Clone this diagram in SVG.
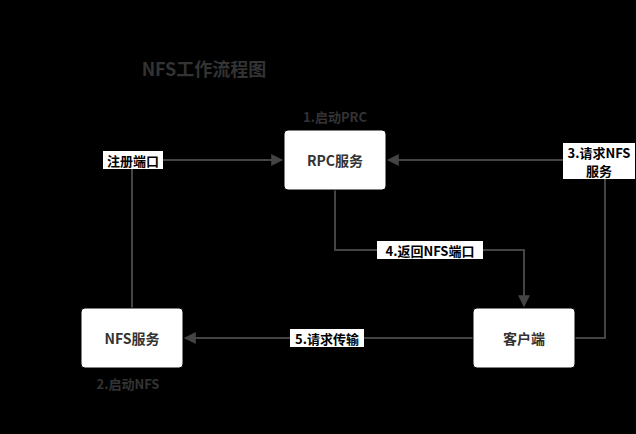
<svg xmlns="http://www.w3.org/2000/svg" width="636" height="434" viewBox="0 0 636 434">
<style>
.box{fill:#fff;stroke:#000;stroke-width:1}
.t{font-family:"Noto Sans CJK SC","Liberation Sans",sans-serif;font-weight:bold;font-size:13px;text-anchor:middle;dominant-baseline:central;fill:#333}
.c{fill:none;stroke:#444;stroke-width:2}
.lb{fill:#fff}
.g{fill:#333}
</style>
<defs><marker id="a" viewBox="0 0 10 10" refX="9" refY="5" markerWidth="7" markerHeight="7" markerUnits="userSpaceOnUse" orient="auto"><path d="M0,0L10,5L0,10z" fill="#444"/></marker>
<marker id="m" viewBox="0 0 10 10" refX="9" refY="5" markerWidth="16" markerHeight="12" markerUnits="userSpaceOnUse" orient="auto"><path d="M0,0L10,5L0,10z" fill="#444"/></marker></defs>
<rect width="636" height="434" fill="#000"/>
<text x="204" y="68" class="t g" style="font-size:18px">NFS工作流程图</text>
<text x="335" y="116" class="t g">1.启动PRC</text>
<text x="128" y="383" class="t g">2.启动NFS</text>
<g id="connectors">
<path class="c" d="M132,308V160H282" marker-end="url(#m)"/>
<path class="c" d="M575,338H605V160H388" marker-end="url(#m)"/>
<path class="c" d="M335,190V250H524V306" marker-end="url(#m)"/>
<path class="c" d="M473,338H185" marker-end="url(#m)"/>
<rect class="lb" x="103" y="151" width="60" height="18"/>
<text x="133" y="160" class="t" fill="#000" style="fill:#000">注册端口</text>
<rect class="lb" x="563" y="143" width="72" height="36"/>
<text x="599" y="152" class="t" style="fill:#000">3.请求NFS</text>
<text x="599" y="170" class="t" style="fill:#000">服务</text>
<rect class="lb" x="377" y="241" width="106" height="18"/>
<text x="430" y="250" class="t" style="fill:#000">4.返回NFS端口</text>
<rect class="lb" x="290" y="329" width="74" height="18"/>
<text x="327" y="338" class="t" style="fill:#000">5.请求传输</text>
</g>
<g id="rpc"><rect class="box" x="284" y="130" width="102" height="60" rx="4"/><text x="335" y="160" class="t" style="font-size:14px">RPC服务</text></g>
<g id="nfs"><rect class="box" x="81" y="308" width="102" height="60" rx="4"/><text x="132" y="338" class="t" style="font-size:14px">NFS服务</text></g>
<g id="client"><rect class="box" x="473" y="308" width="102" height="60" rx="4"/><text x="524" y="338" class="t" style="font-size:14px">客户端</text></g>
</svg>
